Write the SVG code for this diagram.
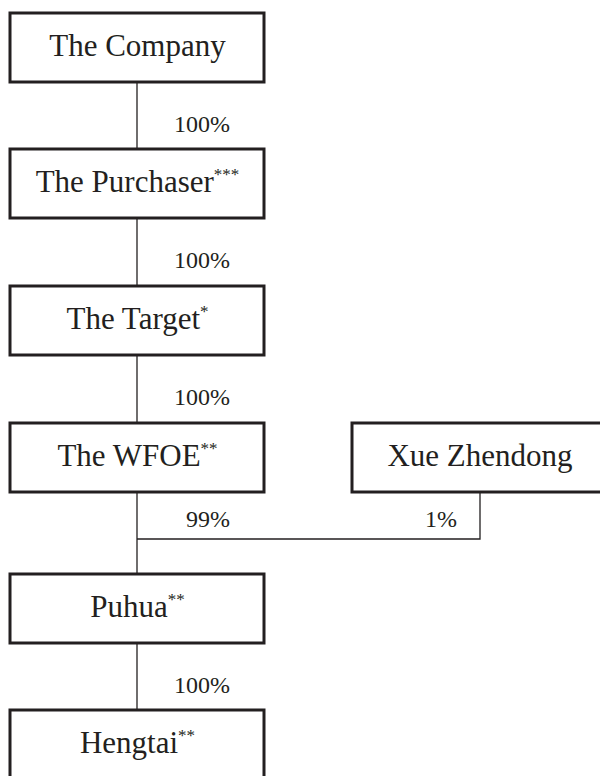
<svg xmlns="http://www.w3.org/2000/svg" width="600" height="776" viewBox="0 0 600 776">
<style>
.box{fill:#fff;stroke:#231f20;stroke-width:3}
.lbl{font-family:"Liberation Serif","Times New Roman",serif;font-size:31px;fill:#231f20;text-anchor:middle}
.pct{font-family:"Liberation Serif","Times New Roman",serif;font-size:24px;fill:#231f20;text-anchor:end}
.sup{font-size:17px}
.ln{stroke:#231f20;stroke-width:1.3;fill:none}
</style>
<rect width="600" height="776" fill="#fff"/>
<g id="connectors">
<line class="ln" x1="137" y1="82" x2="137" y2="149"/>
<line class="ln" x1="137" y1="218" x2="137" y2="286"/>
<line class="ln" x1="137" y1="355" x2="137" y2="423"/>
<line class="ln" x1="137" y1="492" x2="137" y2="574"/>
<polyline class="ln" points="137,539 480,539 480,492"/>
<line class="ln" x1="137" y1="643" x2="137" y2="710"/>
<text class="pct" x="230" y="132">100%</text>
<text class="pct" x="230" y="268">100%</text>
<text class="pct" x="230" y="405">100%</text>
<text class="pct" x="230" y="527">99%</text>
<text class="pct" x="457" y="527">1%</text>
<text class="pct" x="230" y="693">100%</text>
</g>
<g id="company">
<rect class="box" x="10" y="13" width="254" height="69"/>
<text class="lbl" x="137.5" y="56">The Company</text>
</g>
<g id="purchaser">
<rect class="box" x="10" y="149" width="254" height="69"/>
<text class="lbl" x="137.5" y="192">The Purchaser<tspan class="sup" dy="-12">***</tspan></text>
</g>
<g id="target">
<rect class="box" x="10" y="286" width="254" height="69"/>
<text class="lbl" x="137.5" y="329">The Target<tspan class="sup" dy="-12">*</tspan></text>
</g>
<g id="wfoe">
<rect class="box" x="10" y="423" width="254" height="69"/>
<text class="lbl" x="137.5" y="466">The WFOE<tspan class="sup" dy="-12">**</tspan></text>
</g>
<g id="xue">
<rect class="box" x="352" y="423" width="258" height="69"/>
<text class="lbl" x="480" y="466">Xue Zhendong</text>
</g>
<g id="puhua">
<rect class="box" x="10" y="574" width="254" height="69"/>
<text class="lbl" x="137.5" y="617">Puhua<tspan class="sup" dy="-12">**</tspan></text>
</g>
<g id="hengtai">
<rect class="box" x="10" y="710" width="254" height="80"/>
<text class="lbl" x="137.5" y="753">Hengtai<tspan class="sup" dy="-12">**</tspan></text>
</g>
</svg>
